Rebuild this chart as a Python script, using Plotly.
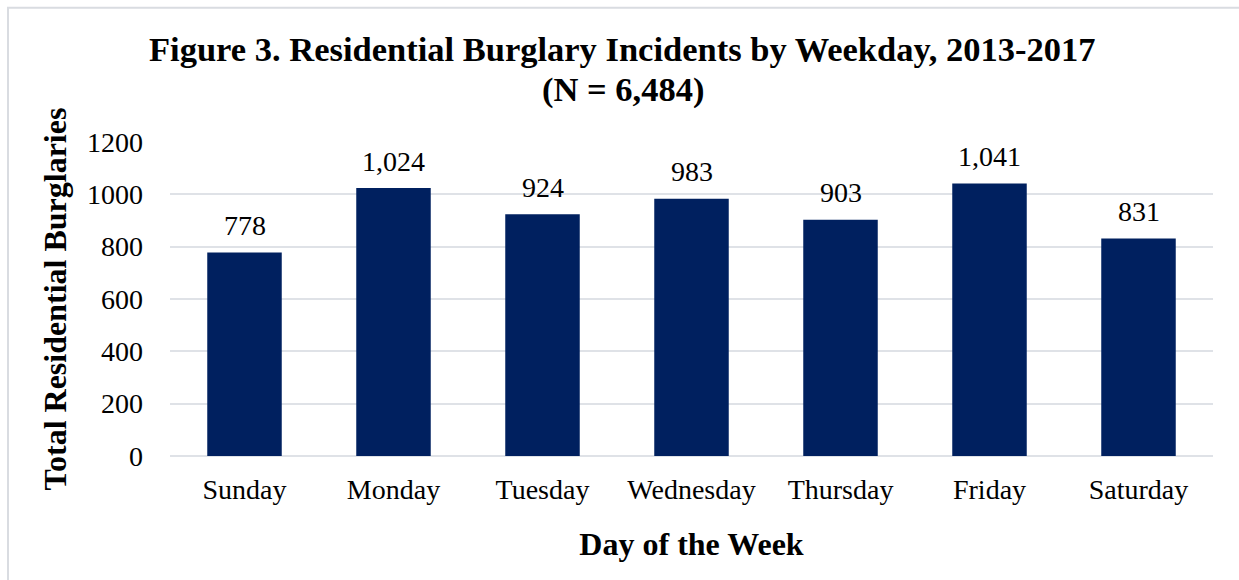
import plotly.graph_objects as go

days = ["Sunday", "Monday", "Tuesday", "Wednesday", "Thursday", "Friday", "Saturday"]
incidents = [778, 1024, 924, 983, 903, 1041, 831]
y_ticks = [0, 200, 400, 600, 800, 1000, 1200]
title_lines = ["Figure 3. Residential Burglary Incidents by Weekday, 2013-2017", "(N = 6,484)"]

W, H = 1239, 580
L, R, T, B = 170, 26, 141.5, 124
pw, ph = W - L - R, H - T - B

serif = "Liberation Serif, Times New Roman, serif"

fig = go.Figure(go.Bar(
    x=days, y=incidents,
    marker=dict(color="#00205f", line=dict(width=0)),
    width=0.5,
    hoverinfo="x+y",
))

# value labels above each bar
for d, v in zip(days, incidents):
    fig.add_annotation(x=d, y=v, xref="x", yref="y", text=f"{v:,}", showarrow=False,
                       yanchor="middle", yshift=27,
                       font=dict(family=serif, size=28, color="#000000"))

# two-line bold title, centred over the canvas
for i, line in enumerate(title_lines):
    fig.add_annotation(x=(622.5 - L) / pw, xref="paper", xanchor="center",
                       y=(H - B - (48 + 41 * i)) / ph, yref="paper", yanchor="middle",
                       text=f"<b>{line}</b>", showarrow=False,
                       font=dict(family=serif, size=34.5, color="#000000"))

# light outer frame of the chart area
fig.add_shape(type="rect", xref="paper", yref="paper",
              x0=(8 - L) / pw, x1=(W + 20 - L) / pw,
              y0=(H - B - (H + 20)) / ph, y1=(H - B - 7) / ph,
              line=dict(color="#d9dce1", width=2), fillcolor="rgba(0,0,0,0)", layer="below")

fig.update_layout(
    width=W, height=H,
    margin=dict(l=L, r=R, t=T, b=B),
    paper_bgcolor="white", plot_bgcolor="white",
    font=dict(family=serif, color="#000000"),
    showlegend=False,
    bargap=0.5,
)
fig.update_xaxes(
    tickfont=dict(family=serif, size=28), ticks="", showline=False, ticklabelstandoff=14,
    title=dict(text="<b>Day of the Week</b>", font=dict(family=serif, size=32), standoff=28),
)
fig.update_yaxes(
    range=[0, 1200], tickvals=y_ticks, ticktext=[str(v) for v in y_ticks],
    tickfont=dict(family=serif, size=28), ticks="", showgrid=True, ticklabelstandoff=26,
    gridcolor="#dfe2e7", gridwidth=2, zeroline=True, zerolinecolor="#dfe2e7", zerolinewidth=2,
    title=dict(text="<b>Total Residential Burglaries</b>", font=dict(family=serif, size=32), standoff=10),
)

fig.write_html("out.html")
